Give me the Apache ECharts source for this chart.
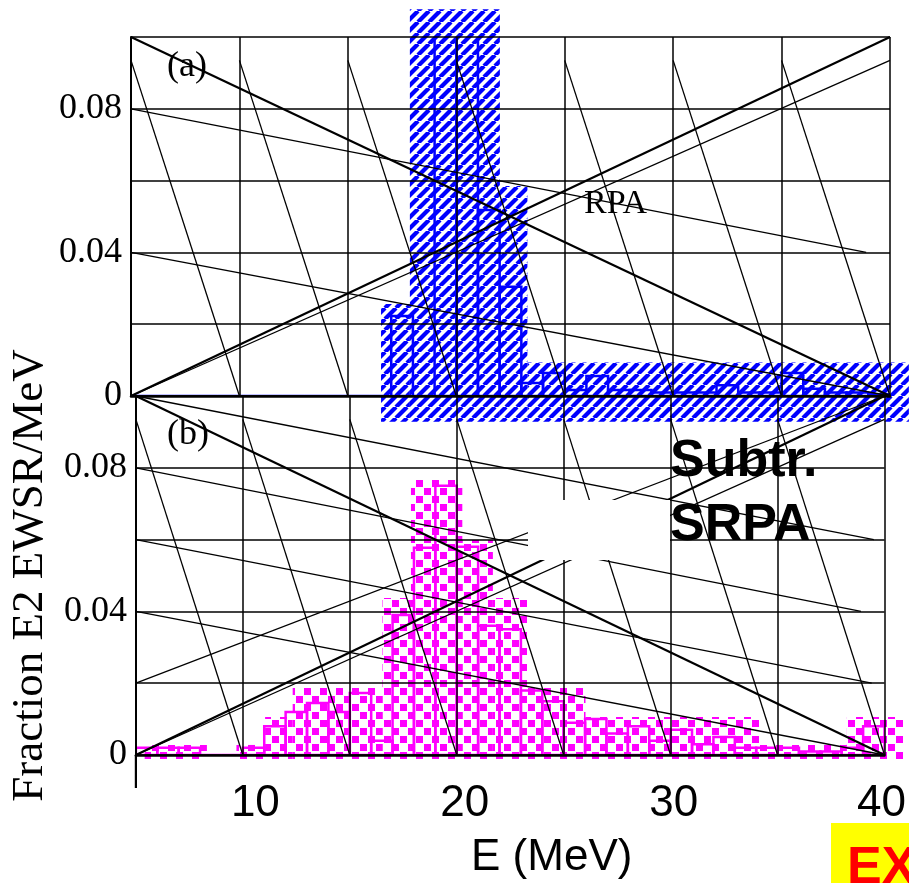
<!DOCTYPE html>
<html>
<head>
<meta charset="utf-8">
<script src="https://cdn.jsdelivr.net/npm/echarts@6/dist/echarts.min.js"></script>
<style>
html,body{margin:0;padding:0;background:#fff;}
#chart{width:909px;height:883px;}
</style>
</head>
<body>
<div id="chart"></div>
<script>
// ---------------- data ----------------
// 1 MeV bins, left edges
const binStarts = [5,6,7,8,9,10,11,12,13,14,15,16,17,18,19,20,21,22,23,24,25,26,27,28,29,30,31,32,33,34,35,36,37,38,39];
// (a) RPA, fraction E2 EWSR / MeV
const rpaValues = [0,0,0,0,0,0,0,0,0,0,0,0,0.0223,0,0.12,0.12,0.0518,0.0304,0.0036,0.0064,0.0017,0.0056,0.0017,0.0017,0.001,0.001,0.001,0.003,0.001,0.001,0.0064,0.002,0.001,0.001,0.0005];
// (b) Subtr. SRPA
const srpaValues = [0.002,0.002,0.002,0,0,0.002,0.008,0.012,0.0145,0.012,0.0173,0.004,0.039,0.0577,0.075,0.058,0.036,0.035,0.018,0.015,0.009,0.010,0.006,0.008,0.004,0.007,0.003,0.005,0.002,0.002,0.002,0.001,0.001,0.002,0.008];

const xTickLabels = ['10','20','30','40'];
const yTickLabels = ['0','0.04','0.08'];

// shaded (pattern) areas as they appear: [E start, E end, top value]
const rpaShadeAreas = [[16.53,17.86,0.0256],[17.86,22.01,0.1077],[22.01,23.28,0.0585],[23.28,40.87,0.0093]];
const rpaShadeBase = -0.0072;
const srpaShadeAreas = [[5.41,8.32,0.0028],[9.70,11.04,0.0028],[11.04,12.33,0.0106],[12.33,16.53,0.0189],[16.53,17.86,0.0437],[17.86,20.26,0.0766],[20.26,21.69,0.0599],[21.69,23.30,0.0437],[23.30,26.02,0.0189],[26.02,34.14,0.0106],[34.14,38.24,0.0028],[38.24,40.87,0.0106]];
const srpaShadeBase = -0.0014;

// straight strokes across the panels: [E0, v0, E1, v1]
const topHeavyStrokes = [[5,0.1,40,0],[5,0,40,0.1]];
const topLightStrokes = [[5,0,40,0.0935],[5,0.08,38.9,0.04],[5,0.04,40,0],
  [5,0.0935,10,0],[10,0.0935,15,0],[15,0.0935,20,0],[20,0.0935,25,0],[25,0.0935,30,0],[30,0.0935,35,0],[35,0.0935,40,0]];
const bottomHeavyStrokes = [[5,0.1,40,0],[5,0,40,0.1],[5,0,5,-0.0092]];
const bottomLightStrokes = [[5,0,40,0.0935],[5,0.1,39.5,0.06],[5,0.08,38.9,0.04],[5,0.06,39.4,0.02],[5,0.04,40,0],[5,0.02,40,0.1],
  [5,0.0935,10,0],[10,0.0935,15,0],[15,0.0935,20,0],[20,0.0935,25,0],[25,0.0935,30,0],[30,0.0935,35,0],[35,0.0935,40,0]];

// ---------------- patterns ----------------
function hatchTile(){
  const n=11;
  const c=document.createElement('canvas'); c.width=n; c.height=n;
  const g=c.getContext('2d'); g.fillStyle='#fff'; g.fillRect(0,0,n,n);
  g.strokeStyle='#0000ff'; g.lineWidth=4.2;
  [-n,0,n].forEach(o=>{g.beginPath(); g.moveTo(o,n); g.lineTo(o+n,0); g.stroke();});
  return c;
}
function checkerTile(){
  const c=document.createElement('canvas'); c.width=16; c.height=16;
  const g=c.getContext('2d'); g.fillStyle='#fff'; g.fillRect(0,0,16,16);
  g.fillStyle='#ff00ff'; g.fillRect(0,0,7,7); g.fillRect(8,8,7,7);
  return c;
}
const hatchPattern={type:'pattern', image:hatchTile(), repeat:'repeat'};
const checkerPattern={type:'pattern', image:checkerTile(), repeat:'repeat'};

// ---------------- renderers ----------------
function shadeRenderer(base, fill){
  return function(params, api){
    const p0=api.coord([api.value(0), api.value(2)]);
    const p1=api.coord([api.value(1), base]);
    return {type:'rect', shape:{x:p0[0], y:p0[1], width:p1[0]-p0[0], height:p1[1]-p0[1]}, style:{fill:fill}};
  };
}
function outlineRenderer(color){
  return function(params, api){
    const p0=api.coord([api.value(0), api.value(2)]);
    const p1=api.coord([api.value(1), 0]);
    return {type:'rect', shape:{x:p0[0], y:p0[1], width:p1[0]-p0[0], height:p1[1]-p0[1]}, style:{fill:'none', stroke:color, lineWidth:2.5}};
  };
}
function strokeRenderer(width){
  return function(params, api){
    const a=api.coord([api.value(0), api.value(1)]);
    const b=api.coord([api.value(2), api.value(3)]);
    return {type:'line', shape:{x1:a[0], y1:a[1], x2:b[0], y2:b[1]}, style:{stroke:'#000', lineWidth:width}};
  };
}
const rpaBins = binStarts.map((e,i)=>[e, e+1, rpaValues[i]]);
const srpaBins = binStarts.map((e,i)=>[e, e+1, srpaValues[i]]);

function customSeries(idx, data, renderItem, z, clip){
  return {type:'custom', xAxisIndex:idx, yAxisIndex:idx, data:data, renderItem:renderItem, z:z, clip:!!clip, silent:true, animation:false};
}

const gridLine={show:true, lineStyle:{color:'#000', width:1.5}};
const yLabelFmt = v => { const s=yTickLabels.find(t=>Math.abs(Number(t)-v)<1e-9); return s===undefined?'':s; };
const sans = '"Liberation Sans", Arial, sans-serif';
const xRich = {};
const xShift = {'10':[0,0,0,25],'20':[0,0,0,16],'30':[0,0,0,6],'40':[0,6,0,0]};
xTickLabels.forEach(t=>{ xRich['t'+t]={fontFamily:sans, fontSize:44, color:'#000', padding:xShift[t]}; });

function xAxisDef(idx, withLabels){
  const a = {gridIndex:idx, type:'value', min:5, max:40, interval:5, z:3,
    axisLine:{show:true, onZero:false, lineStyle:{color:'#000', width:2.5}},
    axisTick:{show:false}, splitLine:gridLine,
    axisLabel:{show:false}};
  if(withLabels){
    a.axisLabel={show:true, showMinLabel:true, showMaxLabel:true, margin:27, rich:xRich,
      formatter:v=>{const s=String(v); return xTickLabels.includes(s)?'{t'+s+'|'+s+'}':'';}};
    a.name='E (MeV)'; a.nameLocation='middle'; a.nameGap=81;
    a.nameTextStyle={fontFamily:sans, fontSize:44, color:'#000', padding:[0,0,0,83]};
  }
  return a;
}
function yAxisDef(idx, withName){
  const a = {gridIndex:idx, type:'value', min:0, max:0.1, interval:0.02, z:3,
    axisLine:{show:true, lineStyle:{color:'#000', width:2}},
    axisTick:{show:false}, splitLine:gridLine,
    axisLabel:{show:true, formatter:yLabelFmt, fontFamily:'"Liberation Serif", serif', fontSize:36, color:'#000', margin:9, showMinLabel:true, showMaxLabel:true}};
  if(withName){
    a.name='Fraction E2 EWSR/MeV'; a.nameLocation='middle'; a.nameGap=66;
    a.nameTextStyle={fontFamily:'"Liberation Serif", serif', fontSize:45, color:'#000'};
  }
  return a;
}

const option = {
  animation:false,
  backgroundColor:'#fff',
  grid:[{left:131, top:37, width:759, height:359},{left:131, top:396, width:759, height:359}],
  xAxis:[xAxisDef(0,false), xAxisDef(1,true)],
  yAxis:[yAxisDef(0,false), yAxisDef(1,true)],
  series:[
    customSeries(0, rpaShadeAreas, shadeRenderer(rpaShadeBase, hatchPattern), 1, false),
    customSeries(1, srpaShadeAreas, shadeRenderer(srpaShadeBase, checkerPattern), 1, false),
    customSeries(0, rpaBins, outlineRenderer('#0000ff'), 2, true),
    customSeries(1, srpaBins, outlineRenderer('#ff00ff'), 2, true),
    customSeries(0, topHeavyStrokes, strokeRenderer(2.2), 4, false),
    customSeries(0, topLightStrokes, strokeRenderer(1.3), 4, false),
    customSeries(1, bottomHeavyStrokes, strokeRenderer(2.2), 4, false),
    customSeries(1, bottomLightStrokes, strokeRenderer(1.3), 4, false)
  ],
  graphic:{elements:[
    {type:'rect', z:100, shape:{x:528, y:500, width:142, height:60}, style:{fill:'#fff'}},
    {type:'text', z:101, x:167, y:67, style:{text:'(a)', font:'36px "Liberation Serif"', fill:'#000', align:'left', verticalAlign:'middle'}},
    {type:'text', z:101, x:167, y:435, style:{text:'(b)', font:'36px "Liberation Serif"', fill:'#000', align:'left', verticalAlign:'middle'}},
    {type:'text', z:101, x:584, y:204, style:{text:'RPA', font:'34px "Liberation Serif"', fill:'#000', align:'left', verticalAlign:'middle'}},
    {type:'text', z:101, x:670, y:462, style:{text:'Subtr.', font:'bold 52px "Liberation Sans"', fill:'#000', align:'left', verticalAlign:'middle'}},
    {type:'text', z:101, x:670, y:526, style:{text:'SRPA', font:'bold 52px "Liberation Sans"', fill:'#000', align:'left', verticalAlign:'middle'}},
    {type:'rect', z:100, shape:{x:831, y:823, width:78, height:60}, style:{fill:'#ffff00'}},
    {type:'text', z:101, x:847, y:869, style:{text:'EX', font:'bold 52px "Liberation Sans"', fill:'#ff0000', align:'left', verticalAlign:'middle'}}
  ]}
};

const chart = echarts.init(document.getElementById('chart'), null, {renderer:'canvas'});
chart.setOption(option);
</script>
</body>
</html>
